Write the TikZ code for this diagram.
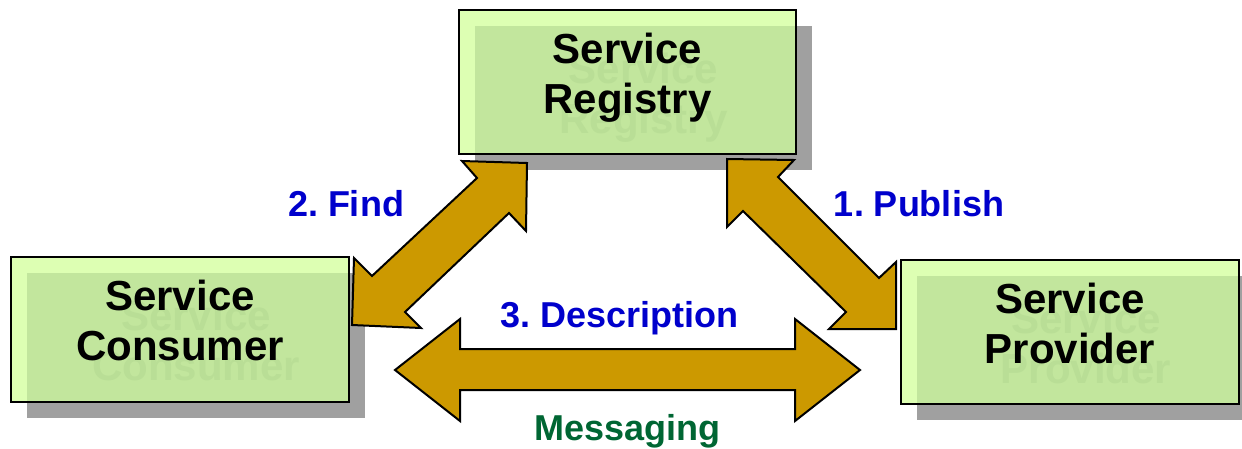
\documentclass[tikz,border=0pt]{standalone}
\usepackage{fontspec}
\setmainfont{Liberation Sans}
\usetikzlibrary{calc,backgrounds}
\frenchspacing

\definecolor{boxlight}{HTML}{DDFFB3}
\definecolor{boxshade}{HTML}{C2E69D}
\definecolor{ghost}{HTML}{B9DE96}
\definecolor{shadowgray}{HTML}{A0A0A0}
\definecolor{arrowgold}{HTML}{CC9900}
\definecolor{stepblue}{HTML}{0000CC}
\definecolor{msggreen}{HTML}{006633}

\tikzset{
  svcframe/.style={minimum width=337pt, minimum height=144pt, inner sep=0pt, fill=boxlight},
  svctext/.style={anchor=base, inner sep=0pt, font=\fontsize{42}{50}\selectfont\bfseries},
  blockarrow/.style={fill=arrowgold, draw=black, line width=2pt, line join=miter},
  steplabel/.style={anchor=base, inner sep=0pt, text=stepblue, font=\fontsize{36}{43}\selectfont\bfseries},
}

% service box: name, centre, first line, second line
\newcommand\svcbox[4]{%
  \node[svcframe] (#1) at (#2) {};
  \begin{scope}[on background layer]
    \fill[shadowgray] ($(#1.north west)+(16,16)$) rectangle ($(#1.south east)+(16,16)$);
  \end{scope}
  \fill[boxshade] ($(#1.north west)+(16,16)$) rectangle (#1.south east);
  \node[svctext, text=ghost] at ($(#1.center)+(16,1)$) {#3};
  \node[svctext, text=ghost] at ($(#1.center)+(16,51)$) {#4};
  \node[svctext] at ($(#1.center)+(0,-19)$) {#3};
  \node[svctext] at ($(#1.center)+(0,31)$) {#4};
  \draw[line width=2pt] (#1.north west) rectangle (#1.south east);
}

\begin{document}
\begin{tikzpicture}[x=1pt, y=-1pt]
  \useasboundingbox (0,0) rectangle (1242,448);

  \svcbox{registry}{627.5,82}{Service}{Registry}
  \svcbox{consumer}{180,329.5}{Service}{Consumer}
  \svcbox{provider}{1070,332}{Service}{Provider}

  % find: consumer <-> registry
  \draw[blockarrow] (527,163) -- (526,231) -- (509,213) -- (405,312) -- (421,328)
    -- (352,325) -- (354,258) -- (372,276) -- (477,178) -- (462,161) -- cycle;

  % publish: registry <-> provider
  \draw[blockarrow] (727,159) -- (794,160) -- (778,177) -- (879,278) -- (896,262)
    -- (896,329) -- (829,329) -- (846,312) -- (743,211) -- (727,227) -- cycle;

  % messaging: consumer <-> provider
  \draw[blockarrow] (395,370) -- (460,319) -- (460,349) -- (795,349) -- (795,319)
    -- (860,370) -- (795,421) -- (795,390) -- (460,390) -- (460,421) -- cycle;

  \node[steplabel] (findlbl) at (346,216) {2. Find};
  \node[steplabel] (publbl) at (919,216) {1. Publish};
  \node[steplabel] (desclbl) at (619.5,327) {3. Description};
  \node[steplabel, text=msggreen] (msglbl) at (627.5,440) {Messaging};
\end{tikzpicture}
\end{document}
